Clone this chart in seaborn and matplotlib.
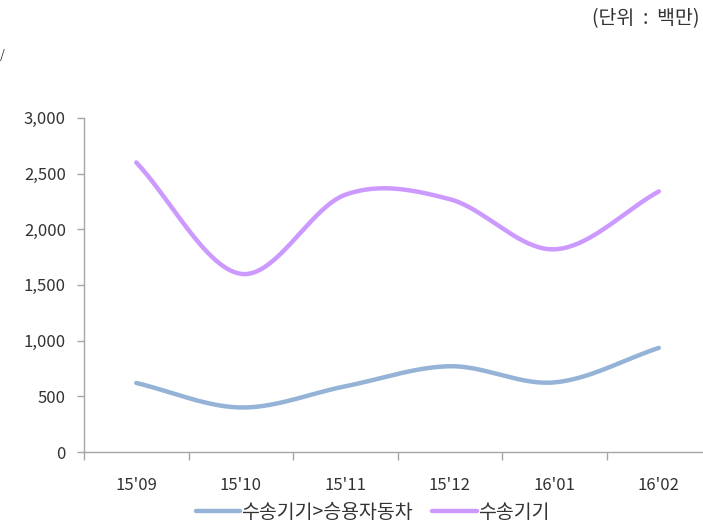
import numpy as np
import pandas as pd
import matplotlib
matplotlib.use("Agg")
import matplotlib.pyplot as plt
from matplotlib.lines import Line2D
import seaborn as sns

# 데이터 (단위: 백만)
months = ["15'09", "15'10", "15'11", "15'12", "16'01", "16'02"]
car = [620, 400, 590, 770, 625, 935]          # 수송기기>승용자동차
transport = [2600, 1600, 2310, 2270, 1820, 2340]  # 수송기기

sns.set_theme(style="white")
plt.rcParams['font.family'] = ['Noto Sans CJK KR', 'DejaVu Sans']


def smooth(vals, n=40):
    # excel-like smoothed line (catmull-rom through the points)
    y = np.asarray(vals, dtype=float)
    p = np.concatenate([[2 * y[0] - y[1]], y, [2 * y[-1] - y[-2]]])
    xs, ys = [], []
    for i in range(len(y) - 1):
        t = np.linspace(0, 1, n, endpoint=(i == len(y) - 2))
        p0, p1, p2, p3 = p[i], p[i + 1], p[i + 2], p[i + 3]
        m1 = (p2 - p0) / 2
        m2 = (p3 - p1) / 2
        h00 = 2 * t**3 - 3 * t**2 + 1
        h10 = t**3 - 2 * t**2 + t
        h01 = -2 * t**3 + 3 * t**2
        h11 = t**3 - t**2
        xs.append(i + t)
        ys.append(h00 * p1 + h10 * m1 + h01 * p2 + h11 * m2)
    return np.concatenate(xs), np.concatenate(ys)


fig = plt.figure(figsize=(7.03, 5.27), dpi=100)
ax = fig.add_axes([0.1195, 0.1423, 0.892, 0.634])

frames = []
for name, vals in [("수송기기>승용자동차", car), ("수송기기", transport)]:
    x, y = smooth(vals)
    frames.append(pd.DataFrame({"x": x, "y": y, "series": name}))
df = pd.concat(frames, ignore_index=True)

sns.lineplot(data=df, x="x", y="y", hue="series", sort=False,
             palette=["#95B3D7", "#CC99FF"], linewidth=3.2, ax=ax,
             legend=False)

ax.set_xlim(-0.5, len(months) - 0.5)
ax.set_ylim(0, 3000)
ax.set_yticks(range(0, 3001, 500))
ax.set_yticklabels([f"{v:,}" for v in range(0, 3001, 500)])
ax.set_xticks(range(len(months)))
ax.set_xticklabels(months)
ax.set_xticks(np.arange(-0.5, len(months) + 0.5, 1), minor=True)
ax.set_xlabel("")
ax.set_ylabel("")

for s in ["top", "right"]:
    ax.spines[s].set_visible(False)
for s in ["left", "bottom"]:
    ax.spines[s].set_color("#A6A6A6")
    ax.spines[s].set_linewidth(1)

ax.tick_params(axis="y", which="major", left=True, length=5, width=1,
               color="#A6A6A6", pad=8, labelsize=12, labelcolor="#333333")
ax.tick_params(axis="x", which="major", bottom=False, pad=12,
               labelsize=12, labelcolor="#333333")
ax.tick_params(axis="x", which="minor", bottom=True, length=6, width=1,
               color="#A6A6A6")

# legend
handles = [Line2D([], [], color="#95B3D7", lw=3.2),
           Line2D([], [], color="#CC99FF", lw=3.2)]
fig.legend(handles, ["수송기기>승용자동차", "수송기기"], loc="center",
           bbox_to_anchor=(0.53, 0.027), ncol=2, frameon=False,
           fontsize=14, handlelength=2.3, handletextpad=0.05,
           columnspacing=1.0, labelcolor="#333333")

fig.text(0.995, 0.965, "(단위  :  백만)", ha="right", va="center",
         fontsize=14, color="#333333")
fig.text(0.0, 0.895, "/", ha="left", va="center", fontsize=9,
         color="#333333")

fig.savefig("out.png", dpi=100)
